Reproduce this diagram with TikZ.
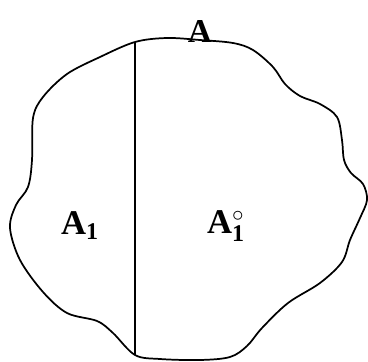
\documentclass[tikz,border=0pt]{standalone}
\usepackage{fontspec}
\setmainfont{Liberation Serif}
\begin{document}
\begin{tikzpicture}[x=0.75pt, y=-0.75pt]
  \tikzset{edge/.style={line width=1.3pt, line join=round}}
  \tikzset{cut/.style={line width=0.9pt}}
  \tikzset{lbl/.style={font=\fontsize{26}{26}\selectfont\bfseries, inner sep=0pt}}
  \useasboundingbox (0,0) rectangle (368,361);
  % ends of the cut
  \coordinate (top) at (135,42);
  \coordinate (bot) at (135,355);
  % outline
  \draw[edge] plot[smooth cycle, tension=0.55] coordinates {
    (top) (167,38) (200,40) (233,43) (253,50) (273,67) (285,84)
    (300,96) (320,104) (337,117) (342,140) (344,160) (351,173)
    (363,184) (367,200) (360,218) (350,240) (342,262) (320,283)
    (288,303) (262,328) (247,346) (230,357) (200,360) (160,359)
    (bot) (113,333) (97,321) (67,313) (43,292) (20,260) (10,228)
    (16,205) (28,187) (32,160) (33,118) (43,97) (67,74) (100,57)};
  % cut
  \draw[cut] (top) -- (bot);
  % labels
  \node[lbl, font=\fontsize{25}{25}\selectfont\bfseries, anchor=base] (A) at (200,42) {A};
  \node[lbl] (A1) at (80,226) {A$_{\mbox{\bfseries\fontsize{18}{18}\selectfont 1}}$};
  \node[lbl] (A1c) at (226,226) {A$^{\circ}_{\mbox{\bfseries\fontsize{18}{18}\selectfont 1}}$};
\end{tikzpicture}
\end{document}
